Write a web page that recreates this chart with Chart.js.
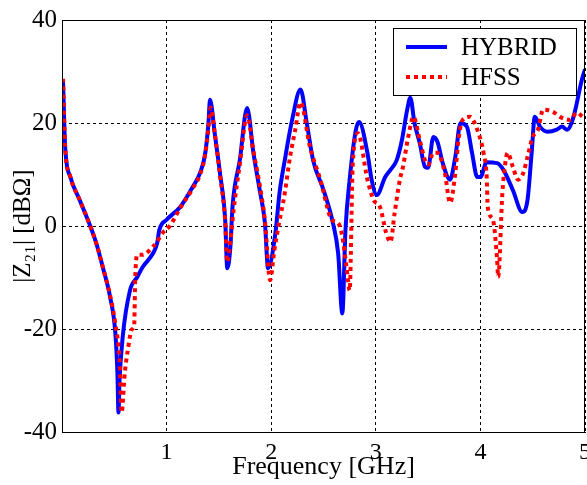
<!DOCTYPE html>
<html>
<head>
<meta charset="utf-8">
<script src="https://cdn.jsdelivr.net/npm/chart.js@4.4.1/dist/chart.umd.min.js"></script>
<style>
  html, body { margin: 0; padding: 0; background: #fff; }
  #wrap { width: 587px; height: 485px; }
</style>
</head>
<body>
<div id="wrap"><canvas id="z21Chart" width="587" height="485"></canvas></div>
<script>
// Frequency in GHz, |Z21| in dBOhm
const hybridFreq = [0.01, 0.03, 0.08, 0.17, 0.27, 0.33, 0.39, 0.46, 0.51, 0.53, 0.54, 0.55, 0.58, 0.65, 0.72, 0.77, 0.87, 0.91, 0.93, 1.0,
  1.13, 1.25, 1.32, 1.37, 1.40, 1.415, 1.46, 1.51, 1.56, 1.58, 1.61, 1.63, 1.70, 1.77, 1.83, 1.89, 1.94, 1.97, 2.04, 2.08,
  2.13, 2.20, 2.28, 2.34, 2.40, 2.50, 2.59, 2.64, 2.68, 2.71, 2.75, 2.81, 2.84, 2.92, 2.96, 3.01, 3.09, 3.14, 3.20, 3.25,
  3.30, 3.33, 3.37, 3.42, 3.47, 3.50, 3.55, 3.59, 3.64, 3.71, 3.76, 3.81, 3.87, 3.92, 3.97, 4.00, 4.06, 4.16, 4.22, 4.31,
  4.40, 4.45, 4.49, 4.52, 4.57, 4.64, 4.73, 4.78, 4.83, 4.89, 4.97, 5.0];
const hybridZ = [28, 15.4, 9.5, 5, 0, -3.5, -8, -13.8, -20.8, -28.6, -36.2, -30, -21.6, -12.5, -9.9, -8, -5.3, -3.3, -0.8, 1.2,
  3.7, 7.6, 10.3, 14.2, 20, 24.5, 18, 10.3, 1.2, -8.2, -4, 3.7, 12.8, 22.9, 14.2, 7, 0.6, -8.2, -1.4, 6.5,
  12.8, 20.6, 26.5, 20, 12.8, 7, 0.6, -5.3, -17, -0.8, 9, 18.7, 20.2, 14.2, 9, 6, 9.5, 10.9, 12.8, 16.7,
  22.6, 24.9, 20, 16.1, 11.5, 11.3, 17.3, 16.3, 12.2, 9, 13.4, 20, 19.3, 14.2, 9.5, 9.5, 12.4, 12.2, 10.9, 7,
  2.7, 5, 14.2, 21.2, 19.3, 18.3, 18.7, 19.3, 18.7, 21.2, 28.4, 30.4];

const hfssFreq = [0.01, 0.03, 0.08, 0.17, 0.27, 0.33, 0.39, 0.46, 0.51, 0.55, 0.57, 0.60, 0.63, 0.67, 0.69, 0.70, 0.72, 0.77, 0.87, 0.92,
  0.96, 1.03, 1.13, 1.25, 1.32, 1.37, 1.40, 1.42, 1.46, 1.51, 1.56, 1.58, 1.61, 1.64, 1.70, 1.77, 1.83, 1.89, 1.94, 1.99,
  2.03, 2.07, 2.13, 2.18, 2.23, 2.28, 2.37, 2.47, 2.58, 2.64, 2.68, 2.72, 2.75, 2.78, 2.83, 2.92, 2.98, 3.04, 3.10, 3.14,
  3.18, 3.23, 3.26, 3.31, 3.36, 3.42, 3.47, 3.50, 3.55, 3.59, 3.66, 3.71, 3.76, 3.79, 3.83, 3.90, 3.97, 4.03, 4.06, 4.07,
  4.12, 4.16, 4.17, 4.21, 4.23, 4.26, 4.31, 4.36, 4.41, 4.45, 4.50, 4.55, 4.60, 4.69, 4.78, 4.86, 4.92, 4.98];
const hfssZ = [28.6, 15.5, 9.5, 5, 0, -3.5, -8, -13.5, -19, -26, -36.2, -28.6, -24, -20, -19.5, -10, -5.6, -5.6, -4, -2.7,
  -1.4, 0, 3.5, 7.3, 10, 14, 19, 23, 18, 10, 1, -7, -3, 3, 12, 21.5, 14.5, 8, 1, -10.5,
  -4.7, 0, 6.4, 13.4, 18.7, 24, 15.4, 9, 1.2, 0.6, -2, -8, -12.5, 12.2, 18, 9, 5, 3.7, -1.4, -3.1,
  2.5, 9, 11.5, 17.3, 21.2, 16.7, 12.8, 11.9, 14.2, 14.2, 10.3, 4.5, 10.3, 16.7, 20.6, 21.2, 18.7, 14.2, 9.5, 3.7,
  1.2, -6.6, -9.9, 6.4, 10.9, 14.2, 11.5, 9, 10.3, 13.4, 17.3, 18.7, 22.6, 22.2, 21, 20.6, 22, 21.2];

const xTicks = [1, 2, 3, 4, 5];
const yTicks = [-40, -20, 0, 20, 40];
const seriesNames = ["HYBRID", "HFSS"];

const serif = "'Liberation Serif', 'Times New Roman', serif";

function toPoints(xs, ys) {
  return xs.map((x, i) => ({ x: x, y: ys[i] }));
}

// solid frame round the plot area + boxed legend, like the matlab figure
const frameAndLegend = {
  id: "frameAndLegend",
  afterDraw(chart) {
    const { ctx, chartArea: a } = chart;
    ctx.save();
    ctx.setLineDash([]);
    ctx.strokeStyle = "#000";
    ctx.lineWidth = 1;
    ctx.strokeRect(a.left + 0.5, a.top + 0.5, a.right - a.left - 1, a.bottom - a.top);

    // legend box
    const bx = 393, by = 28, bw = 183, bh = 67;
    ctx.fillStyle = "#fff";
    ctx.fillRect(bx, by, bw, bh);
    ctx.strokeRect(bx + 0.5, by + 0.5, bw, bh);

    chart.data.datasets.slice().sort((p, q) => p.legendIndex - q.legendIndex).forEach((ds, i) => {
      const y = by + 19 + i * 30;
      ctx.beginPath();
      ctx.strokeStyle = ds.borderColor;
      ctx.lineWidth = ds.borderWidth;
      ctx.setLineDash(ds.borderDash || []);
      ctx.moveTo(406, y);
      ctx.lineTo(447, y);
      ctx.stroke();
      ctx.setLineDash([]);
      ctx.fillStyle = "#000";
      ctx.font = "25px " + serif;
      ctx.textBaseline = "middle";
      ctx.fillText(ds.label, 461, y + 1);
    });
    ctx.restore();
  }
};

new Chart(document.getElementById("z21Chart"), {
  type: "line",
  data: {
    datasets: [
      {
        label: seriesNames[0],
        legendIndex: 0,
        data: toPoints(hybridFreq, hybridZ),
        borderColor: "#0000ff",
        borderWidth: 4,
        pointRadius: 0,
        cubicInterpolationMode: "monotone",
        order: 1,
      },
      {
        label: seriesNames[1],
        legendIndex: 1,
        data: toPoints(hfssFreq, hfssZ),
        borderColor: "#ff0000",
        borderWidth: 4,
        borderDash: [4, 4],
        pointRadius: 0,
        cubicInterpolationMode: "monotone",
        order: 0,
      },
    ],
  },
  options: {
    responsive: false,
    animation: false,
    layout: {
      padding: { top: 20, right: 2, left: 0, bottom: 0 },
    },
    plugins: {
      legend: { display: false },
      tooltip: { enabled: false },
    },
    scales: {
      x: {
        type: "linear",
        min: 0,
        max: 5,
        afterFit: (s) => { s.height = 53; s.paddingRight = 0; s.paddingLeft = 0; },
        afterBuildTicks: (s) => { s.ticks = [0].concat(xTicks).map((v) => ({ value: v })); },
        grid: { color: "#000", lineWidth: 1, drawTicks: false },
        border: { display: true, color: "#000", dash: [3, 3] },
        ticks: {
          padding: 6,
          color: "#000",
          font: { family: serif, size: 24 },
          callback: (v) => (v === 0 ? "" : String(v)),
          maxRotation: 0,
        },
        title: {
          display: true,
          text: "Frequency [GHz]",
          color: "#000",
          font: { family: serif, size: 26 },
          padding: { top: 0, bottom: 2 },
        },
      },
      y: {
        min: -40,
        max: 40,
        afterFit: (s) => { s.width = 62; },
        afterBuildTicks: (s) => { s.ticks = yTicks.map((v) => ({ value: v })); },
        grid: { color: "#000", lineWidth: 1, drawTicks: false },
        border: { display: true, color: "#000", dash: [3, 3] },
        ticks: {
          padding: 5,
          color: "#000",
          font: { family: serif, size: 25 },
        },
        title: {
          display: true,
          text: "|Z\u2082\u2081| [dB\u03a9]",
          color: "#000",
          font: { family: serif, size: 25 },
          padding: { top: 8, bottom: 0 },
        },
      },
    },
  },
  plugins: [frameAndLegend],
});
</script>
</body>
</html>
